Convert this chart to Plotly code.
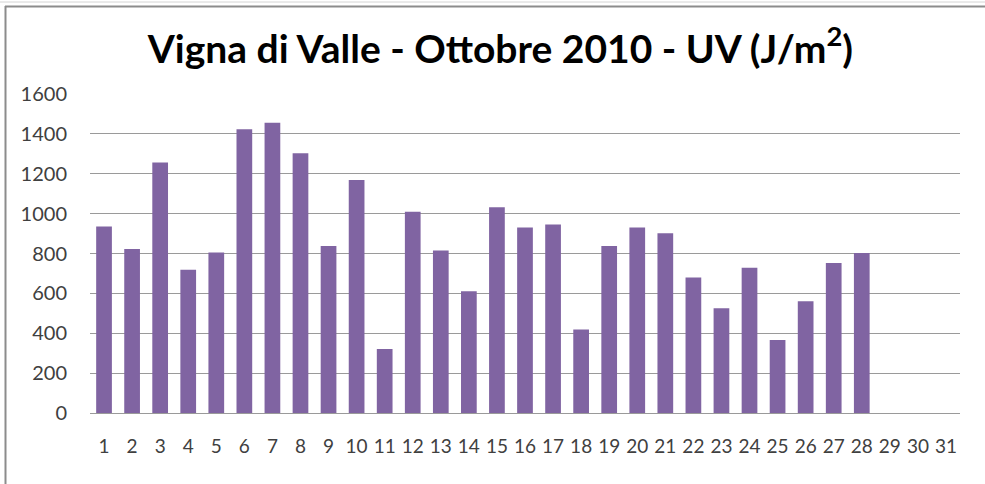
import plotly.graph_objects as go

days = [str(d) for d in range(1, 32)]
uv = [935, 822, 1256, 718, 805, 1423, 1456, 1303, 838, 1169,
      321, 1010, 815, 611, 1032, 930, 945, 419, 838, 930,
      902, 680, 526, 728, 366, 561, 752, 803, None, None, None]
y_ticks = [0, 200, 400, 600, 800, 1000, 1200, 1400, 1600]

title = 'Vigna di Valle - Ottobre 2010 - UV (J/m<sup>2</sup>)'

fig = go.Figure()
fig.add_trace(go.Bar(
    x=days, y=uv,
    marker=dict(color='#8064A2', line=dict(width=0)),
    hoverinfo='x+y',
))

# frame lines around the chart area (paper coords)
ml, mr, mt, mb = 90, 25, 94, 71
pw = 985 - ml - mr
ph = 484 - mt - mb


def px_x(px):
    return (px - ml) / pw


def px_y(py):
    return (484 - mb - py) / ph


fig.add_shape(type='line', xref='paper', yref='paper',
              x0=px_x(0), x1=px_x(985), y0=px_y(2), y1=px_y(2),
              line=dict(color='#d4d4d4', width=1))
fig.add_shape(type='line', xref='paper', yref='paper',
              x0=px_x(5), x1=px_x(985), y0=px_y(6.5), y1=px_y(6.5),
              line=dict(color='#8c8c8c', width=2))
fig.add_shape(type='line', xref='paper', yref='paper',
              x0=px_x(5.5), x1=px_x(5.5), y0=px_y(6), y1=px_y(484),
              line=dict(color='#8c8c8c', width=2))

fig.update_layout(
    width=985, height=484,
    margin=dict(l=ml, r=mr, t=mt, b=mb),
    title=dict(text=title, x=0.508, xanchor='center', y=1 - 49 / 484,
               yanchor='middle', yref='container',
               font=dict(family='Lato', size=39, color='#000000', weight='bold')),
    font=dict(family='Lato', size=19, color='#404040'),
    bargap=0.44,
    showlegend=False,
    plot_bgcolor='white',
    paper_bgcolor='white',
    xaxis=dict(
        type='category', categoryorder='array', categoryarray=days,
        showgrid=False, showline=True, linecolor='#9a9a9a', linewidth=1,
        ticks='', ticklabelstandoff=16, tickangle=0,
        tickfont=dict(size=19, color='#404040'),
    ),
    yaxis=dict(
        range=[0, 1600], tickvals=y_ticks,
        showgrid=True, gridcolor='#9a9a9a', gridwidth=1,
        zeroline=False, showline=False,
        ticks='', ticklabelstandoff=22,
        tickfont=dict(size=20, color='#404040'),
    ),
)

# drop the default body margin so the figure sits at the window's top-left
fig.write_html('out.html', config={'displayModeBar': False},
               post_script="document.body.style.margin='0';"
               "document.body.style.overflow='hidden';")
